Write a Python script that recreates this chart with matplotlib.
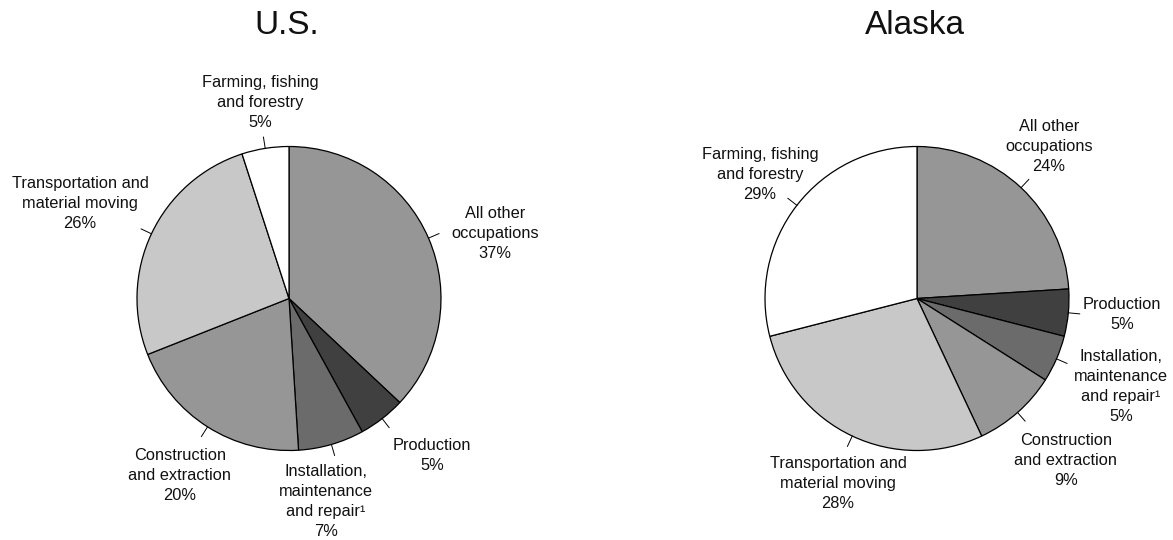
import numpy as np
import matplotlib
matplotlib.use("Agg")
import matplotlib.pyplot as plt

plt.rcParams['font.family'] = ['Liberation Sans', 'DejaVu Sans']

# Occupation groups, in clockwise order from 12 o'clock
categories = ["All other\noccupations", "Production", "Installation,\nmaintenance\nand repair\u00b9",
              "Construction\nand extraction", "Transportation and\nmaterial moving",
              "Farming, fishing\nand forestry"]
us_values = [37, 5, 7, 20, 26, 5]
ak_values = [24, 5, 5, 9, 28, 29]
titles = ["U.S.", "Alaska"]

colors = ["#969696", "#404040", "#6b6b6b", "#969696", "#c8c8c8", "#ffffff"]

# layout (pixels): pie centres, radius, label offsets from centre
W, H = 1173, 540
centers = [(289, H - 298.5), (917, H - 298.5)]
radius = 152
us_offsets = [(206, -65), (143, 157), (37, 203), (-109, 177), (-209, -95), (-29, -196)]
ak_offsets = [(132, -152), (205, 16), (204, 88), (149, 162), (-79, 185), (-157, -124)]

fig = plt.figure(figsize=(W / 100, H / 100), dpi=100)
ax = fig.add_axes([0, 0, 1, 1])

for (cx, cy), vals, offs, title in zip(centers, [us_values, ak_values],
                                       [us_offsets, ak_offsets], titles):
    ax.pie(vals, colors=colors, startangle=90, counterclock=False,
           center=(cx, cy), radius=radius, frame=True,
           wedgeprops=dict(edgecolor="black", linewidth=0.9))
    # leader ticks at the middle of each wedge
    cum = np.cumsum([0] + vals)
    for i, v in enumerate(vals):
        mid = np.deg2rad(90 - 360 * (cum[i] + v / 2) / sum(vals))
        r0, r1 = radius * 1.0, radius * 1.075
        ax.plot([cx + r0 * np.cos(mid), cx + r1 * np.cos(mid)],
                [cy + r0 * np.sin(mid), cy + r1 * np.sin(mid)],
                color="black", lw=0.7)
        ox, oy = offs[i]
        ax.text(cx + ox, cy - oy, f"{categories[i]}\n{v}%", ha="center", va="center",
                fontsize=11.8, linespacing=1.4, color="#111111")
    ax.text(cx - 2, H - 25, title, ha="center", va="center", fontsize=24, color="#111111")

ax.set_xlim(0, W)
ax.set_ylim(0, H)
ax.set_aspect("auto")
ax.axis("off")

fig.savefig("out.png", dpi=100, facecolor="white")
